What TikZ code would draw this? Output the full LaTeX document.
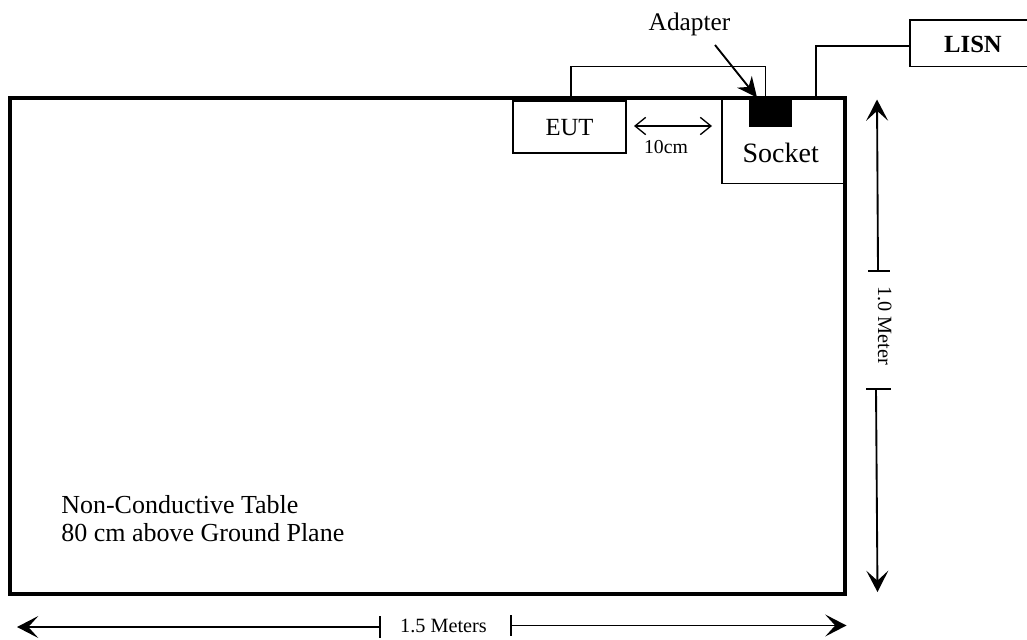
\documentclass[tikz,border=0pt]{standalone}
\usepackage{fontspec}
\setmainfont{Liberation Serif}
\usetikzlibrary{arrows.meta,calc}
\tikzset{
  table/.style={draw,line width=2.6pt,minimum width=626.25pt,minimum height=372pt,outer sep=0pt,inner sep=0pt},
  boxnode/.style={draw,line width=1.4pt,outer sep=0pt,inner sep=0pt,font=\fontsize{18.5pt}{22pt}\selectfont},
  plug/.style={fill=black,draw=none,outer sep=0pt,inner sep=0pt,minimum width=32.25pt,minimum height=21.75pt},
  lbl/.style={anchor=base,inner sep=0pt,font=\fontsize{19pt}{22pt}\selectfont},
  smalllbl/.style={anchor=base,inner sep=0pt,font=\fontsize{14.8pt}{18pt}\selectfont},
  wirethin/.style={line width=1.25pt},
  wirethick/.style={line width=1.7pt},
  bigarrow/.style={line width=1.4pt,-{Stealth[length=16pt,width=16.5pt,inset=7.5pt]}},
  openarrow/.style={line width=1pt,{Straight Barb[length=8pt,width=13pt,line width=1pt]}-{Straight Barb[length=8pt,width=13pt,line width=1pt]}},
  tick/.style={line width=1.2pt},
  pointer/.style={line width=1.4pt,-{Stealth[length=15pt,width=14pt]}}
}
\begin{document}
\begin{tikzpicture}[x=0.75pt,y=-0.75pt]
\useasboundingbox (0,0) rectangle (1027,639);
% table
\node[table] (tbl) at (427.5,346) {};
\node[anchor=base west,inner sep=0pt,align=left,font=\fontsize{19.5pt}{21pt}\selectfont] (tbltext) at (61,541) {Non-Conductive Table\\80 cm above Ground Plane};
% boxes
\node[boxnode,minimum width=84.75pt,minimum height=39pt,text height=12pt,text depth=0pt] (eut) at (569.5,127) {EUT};
\node[boxnode,minimum width=93pt,minimum height=64.1pt,text height=31.9pt,text depth=0pt,font=\fontsize{21pt}{24pt}\selectfont] (socket) at (784,140.75) {Socket\kern5pt};
\node[plug] (plug) at (770.5,112.5) {};
\node[boxnode,minimum width=94.5pt,minimum height=34.9pt,text height=14.6pt,text depth=0pt,font=\fontsize{18.5pt}{22pt}\selectfont\bfseries] (lisn) at (973,43.25) {LISN};
% wires
\coordinate (eutUp) at (571,98);
\coordinate (plugUp) at (765.5,98);
\coordinate (lisnUp) at (816,98);
\draw[wirethin] (eutUp) -- (571,66.5) -- (765.5,66.5) -- (plugUp);
\draw[wirethick] (lisnUp) -- (816,46) -- (lisn.west |- 816,46);
% adapter
\node[lbl] (adapter) at (689.5,30) {Adapter};
\coordinate (adStart) at (715,45);
\coordinate (adTip) at (757,97.5);
\draw[pointer] (adStart) -- (adTip);
% 10 cm
\coordinate (gapA) at (634,126);
\coordinate (gapB) at (712,126);
\draw[openarrow] (gapA) -- (gapB);
\node[smalllbl] (ten) at (666,153) {10cm};
% 1.0 meter
\node[anchor=base,rotate=-90,inner sep=0pt,font=\fontsize{15.2pt}{18pt}\selectfont] (onem) at (878,325.5) {1.0 Meter};
\coordinate (vTop) at (877,99.5);
\coordinate (vT1) at (878,271);
\coordinate (vT2) at (876,389);
\coordinate (vBot) at (877.5,592);
\draw[bigarrow] (vT1) -- (vTop);
\draw[bigarrow] (vT2) -- (vBot);
\draw[tick] (868,271) -- (890,271);
\draw[tick] (866,389) -- (891,389);
% 1.5 meters
\node[anchor=base,inner sep=0pt,font=\fontsize{15.2pt}{18pt}\selectfont] (onefive) at (443.5,632) {1.5 Meters};
\coordinate (hL) at (17,627);
\coordinate (hT1) at (380,627);
\coordinate (hT2) at (511,625.5);
\coordinate (hR) at (846.5,625.5);
\draw[bigarrow] (hT1) -- (hL);
\draw[bigarrow] (hT2) -- (hR);
\draw[tick] (380,616) -- (380,638);
\draw[tick] (511,615) -- (511,636);
\end{tikzpicture}
\end{document}
